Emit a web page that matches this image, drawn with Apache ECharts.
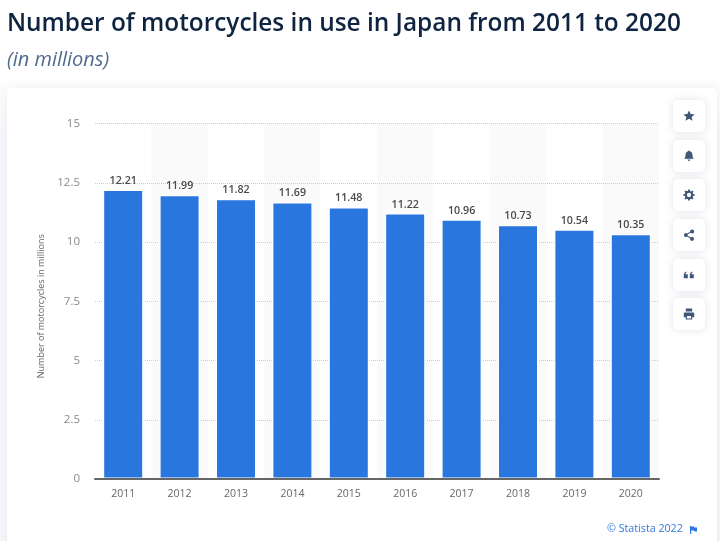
<!DOCTYPE html>
<html>
<head>
<meta charset="utf-8">
<style>
  html, body { margin: 0; padding: 0; background: #fff; }
  #chart { width: 720px; height: 541px; }
</style>
<script src="https://cdn.jsdelivr.net/npm/echarts@6/dist/echarts.min.js"></script>
</head>
<body>
<div id="chart"></div>
<script>
const years = ['2011', '2012', '2013', '2014', '2015', '2016', '2017', '2018', '2019', '2020'];
const motorcycles = [12.21, 11.99, 11.82, 11.69, 11.48, 11.22, 10.96, 10.73, 10.54, 10.35];
const buttonTops = [100, 140, 179, 219, 259, 298];

// toolbar icons, in the button's own 16x16 box
const icons = [
  'M8 1l2.100 4.500 4.900.5-3.700 3.200 1.100 4.800L8 11.500 3.600 14l1.100-4.800L1 6l4.900-.5z',
  'M8 1c.6 0 1 .4 1 1 2.200.5 3.300 2.200 3.300 4.300 0 3 1 4 1.700 5.200H2c.7-1.200 1.700-2.200 1.700-5.200C3.700 4.200 4.800 2.500 7 2c0-.6.400-1 1-1zM6.300 12.500h3.400c0 1-.8 1.700-1.700 1.700s-1.700-.7-1.700-1.700z',
  'M7 1h2l.3 1.900 1.400.6 1.600-1.100 1.400 1.400-1.100 1.600.6 1.400L15 7v2l-1.800.3-.6 1.400 1.100 1.600-1.400 1.400-1.600-1.100-1.400.6L9 15H7l-.3-1.800-1.400-.6-1.600 1.100-1.400-1.400 1.100-1.600-.6-1.400L1 9V7l1.800-.3.6-1.400-1.100-1.600 1.400-1.400 1.600 1.100 1.400-.6zM8 5.300a2.700 2.700 0 1 0 0 5.400 2.700 2.700 0 0 0 0-5.400z',
  'M12 1a2.500 2.500 0 1 1-1.900 4.100L6.400 7.200a2.500 2.500 0 0 1 0 1.600l3.700 2.100a2.500 2.500 0 1 1-.7 1.200L5.700 10a2.500 2.500 0 1 1 0-4l3.700-2.100A2.500 2.500 0 0 1 12 1z',
  'M1.500 8c0-2.500 1.500-4 3.500-4.500V5C4 5.400 3.500 6 3.500 7H6.500v5h-5zM9 8c0-2.500 1.500-4 3.500-4.500V5c-1 .4-1.500 1-1.500 2h3v5H9z',
  'M4 1h8v4H4zM2.500 6h11c.6 0 1 .4 1 1v5h-2.500v3H4v-3H1.500V7c0-.6.400-1 1-1zM5.500 10.500v3h5v-3z'
];

icons.forEach((d, i) => {
  echarts.graphic.registerShape('toolIcon' + i, echarts.graphic.extendPath(d, {}));
});
echarts.graphic.registerShape('flagIcon', echarts.graphic.extendPath('M0 0h1.200v8H0zM1.200 .5h2.800l.5 1h2.500v4H4.500l-.5-1H1.200z', {}));

const chart = echarts.init(document.getElementById('chart'), null, { renderer: 'canvas' });

const graphics = [
  {
    type: 'rect', z: -20, silent: true,
    shape: { x: 0, y: 70, width: 720, height: 471 },
    style: {
      fill: new echarts.graphic.LinearGradient(0, 0, 0, 1, [
        { offset: 0, color: '#fff' },
        { offset: 0.15, color: '#f5f6fa' },
        { offset: 1, color: '#f5f6fa' }
      ])
    }
  },
  {
    type: 'rect', z: -10, silent: true,
    shape: { x: 7, y: 88, width: 710, height: 470, r: 5 },
    style: { fill: '#fff', shadowBlur: 10, shadowColor: 'rgba(70,90,130,0.08)' }
  },
  {
    type: 'text', left: 7, top: 12.500,
    style: { text: 'Number of motorcycles in use in Japan from 2011 to 2020', fill: '#0f2440', font: '600 24.4px "Open Sans"' }
  },
  {
    type: 'text', left: 7, top: 50.500,
    style: { text: '(in millions)', fill: '#4f6a8c', font: 'italic 400 20px "Open Sans"' }
  },
  {
    type: 'text', left: 607, top: 523,
    style: { text: '© Statista 2022', fill: '#2f78dd', font: '400 10.7px "Open Sans"' }
  },
  {
    type: 'flagIcon', silent: true, x: 690, y: 526,
    style: { fill: '#2f78dd' }
  }
];

buttonTops.forEach((top, i) => {
  graphics.push({
    type: 'rect', silent: true,
    shape: { x: 673, y: top, width: 32, height: 32, r: 5 },
    style: { fill: '#fff', shadowBlur: 8, shadowColor: 'rgba(70,90,130,0.16)' }
  });
  graphics.push({
    type: 'toolIcon' + i, silent: true,
    x: 682.6, y: top + 9.6, scaleX: 0.8, scaleY: 0.8,
    style: { fill: '#3f5778' }
  });
});

chart.setOption({
  animation: false,
  backgroundColor: '#fff',
  grid: { left: 95, right: 61, top: 123.500, bottom: 62 },
  xAxis: [
    {
      type: 'category',
      data: years,
      axisTick: { show: false },
      axisLine: { show: false },
      axisLabel: { color: '#666', fontFamily: 'Open Sans', fontSize: 10.500, margin: 10 },
      splitArea: { show: true, areaStyle: { color: ['#fff', '#fafafb'] } }
    },
    // second axis only to draw the baseline on top of the bars
    {
      type: 'category',
      data: years,
      position: 'bottom',
      z: 5,
      axisTick: { show: false },
      axisLabel: { show: false },
      axisLine: { lineStyle: { color: '#666', width: 2 } }
    }
  ],
  yAxis: {
    type: 'value',
    z: 1,
    min: 0,
    max: 15,
    interval: 2.500,
    name: 'Number of motorcycles in millions',
    nameLocation: 'middle',
    nameGap: 46,
    nameTextStyle: { color: '#666', fontFamily: 'Open Sans', fontSize: 9, padding: [0, 10, 0, 0] },
    axisLine: { show: false },
    axisTick: { show: false },
    axisLabel: { color: '#888', fontFamily: 'Open Sans', fontSize: 11.500, margin: 15 },
    splitLine: { show: true, lineStyle: { color: '#ccc', type: [1, 1], width: 1 } }
  },
  series: [{
    type: 'bar',
    data: motorcycles,
    barWidth: 41,
    itemStyle: { color: '#2976de', borderColor: '#fff', borderWidth: 1.500 },
    label: {
      show: true,
      position: 'top',
      distance: 3,
      color: '#4a4a4a',
      fontFamily: 'Open Sans',
      fontWeight: 600,
      fontSize: 10.700,
      formatter: (p) => p.value.toFixed(2)
    }
  }],
  graphic: graphics
});
</script>
</body>
</html>
